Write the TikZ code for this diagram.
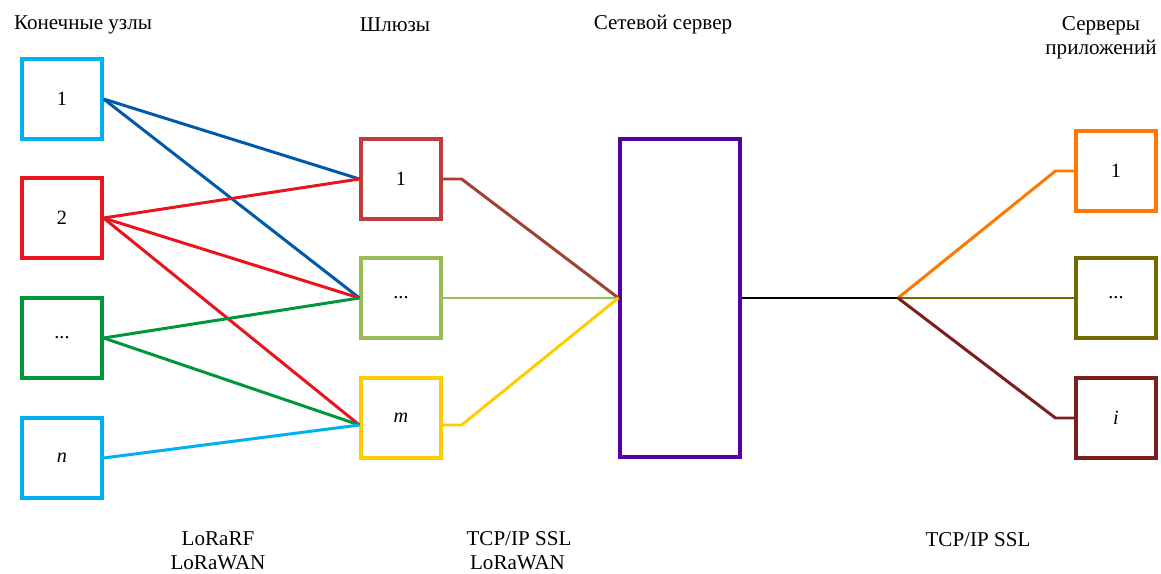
\documentclass[tikz,border=0pt]{standalone}
\usepackage{fontspec}
\setmainfont{Liberation Serif}
\definecolor{uzcyan}{RGB}{0,176,240}
\definecolor{uzblue}{RGB}{0,90,170}
\definecolor{uzred}{RGB}{232,20,30}
\definecolor{uzgreen}{RGB}{0,150,60}
\definecolor{gwbrown}{RGB}{190,60,60}
\definecolor{gwline}{RGB}{160,65,50}
\definecolor{gwolive}{RGB}{155,187,89}
\definecolor{gwyellow}{RGB}{255,204,0}
\definecolor{srvpurple}{RGB}{85,0,160}
\definecolor{aporange}{RGB}{255,120,0}
\definecolor{apolive}{RGB}{115,105,0}
\definecolor{apdark}{RGB}{125,30,30}
\tikzset{
  box/.style={draw,line width=1.8pt,minimum width=1.6cm,minimum height=1.6cm,inner sep=0pt,font=\fontsize{11.5}{13}\selectfont},
  link/.style={line width=1.7pt},
  lbl/.style={align=center,inner sep=0pt,font=\fontsize{12}{13.5}\selectfont}
}
\begin{document}
\begin{tikzpicture}[x=0.02cm,y=-0.02cm]
    \useasboundingbox (0,0) rectangle (1161,574);
    %подписи
    \node[lbl] (tEnd) at (83,25) {Конечные узлы};
    \node[lbl] (tGw) at (395,25) {Шлюзы};
    \node[lbl] (tNs) at (663,25) {Сетевой сервер};
    \node[lbl] (tApp) at (1101,38) {Серверы\\приложений};
    \node[lbl] (pLora) at (218,551) {LoRaRF\\LoRaWAN};
    \node[lbl,align=left] (pTcp) at (519,551) {TCP/IP SSL\\\,LoRaWAN};
    \node[lbl] (pTcpb) at (978,540) {TCP/IP SSL};
    %конечные узлы
    \node[box,uzcyan,text=black] (e1) at (62,99) {1};
    \node[box,uzred,text=black] (e2) at (62,218) {2};
    \node[box,uzgreen,text=black] (e3) at (62,338) {...};
    \node[box,uzcyan,text=black] (en) at (62,458) {\textit{n}};
    %шлюзы
    \node[box,gwbrown,text=black] (g1) at (401,179) {1};
    \node[box,gwolive,text=black] (g2) at (401,298) {...};
    \node[box,gwyellow,text=black] (gm) at (401,418) {\textit{m}};
    %сетевой сервер
    \node[box,srvpurple,minimum width=2.4cm,minimum height=6.36cm] (ns) at (680,298) {};
    %серверы приложений
    \node[box,aporange,text=black] (a1) at (1116,171) {1};
    \node[box,apolive,text=black] (a2) at (1116,298) {...};
    \node[box,apdark,text=black] (ai) at (1116,418) {\textit{i}};
    \coordinate (hub) at (898,298);
    %LoRaRF
    \draw[link,uzblue] (e1.east) -- (g1.west);
    \draw[link,uzblue] (e1.east) -- (g2.west);
    \draw[link,uzred] (e2.east) -- (g1.west);
    \draw[link,uzred] (e2.east) -- (g2.west);
    \draw[link,uzred] (e2.east) -- ([yshift=-0.14cm]gm.west);
    \draw[link,uzgreen] (e3.east) -- (g2.west);
    \draw[link,uzgreen] (e3.east) -- ([yshift=-0.14cm]gm.west);
    \draw[link,uzcyan] (en.east) -- ([yshift=-0.14cm]gm.west);
    %TCP/IP
    \draw[link,gwline] (g1.east) -- ++(19,0) -- (ns.west);
    \draw[link,gwolive] (g2.east) -- (ns.west);
    \draw[link,gwyellow] ([yshift=-0.14cm]gm.east) -- ++(19,0) -- (ns.west);
    \draw[link,black] (ns.east) -- (hub);
    \draw[link,aporange] (a1.west) -- ++(-19,0) -- (hub);
    \draw[link,apolive] (a2.west) -- (hub);
    \draw[link,apdark] (ai.west) -- ++(-19,0) -- (hub);
  \end{tikzpicture}
\end{document}
